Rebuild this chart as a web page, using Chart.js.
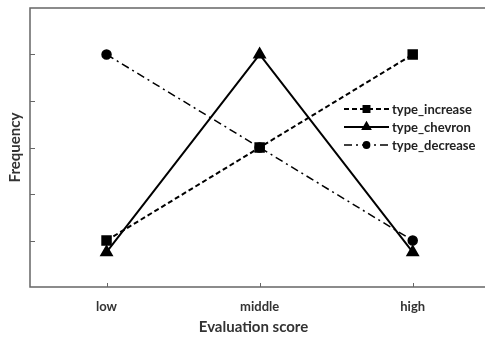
<!DOCTYPE html>
<html>
<head>
<meta charset="utf-8">
<script src="https://cdn.jsdelivr.net/npm/chart.js@4"></script>
<style>
  html, body { margin: 0; padding: 0; background: #fff; overflow: hidden; }
  #wrap { width: 485px; height: 340px; }
</style>
</head>
<body>
<div id="wrap"><canvas id="c"></canvas></div>
<script>
const categories = ['low', 'middle', 'high'];
const typeIncrease = [1, 3, 5];
const typeChevron = [0.75, 5, 0.75];
const typeDecrease = [5, 3, 1];
const yTicks = [1, 2, 3, 4, 5];

const FONT = 'Lato, "Open Sans", sans-serif';
const AXIS = '#666';

const toPoints = arr => arr.map((v, i) => ({ x: i, y: v }));

// inward tick marks, open frame and legend drawn inside the plot
const framePlugin = {
  id: 'frame',
  afterDraw(chart) {
    const { ctx, chartArea: a, scales } = chart;
    ctx.save();
    ctx.strokeStyle = AXIS;
    ctx.lineWidth = 1.5;
    ctx.beginPath();
    ctx.moveTo(chart.width, a.top);
    ctx.lineTo(a.left, a.top);
    ctx.lineTo(a.left, a.bottom);
    ctx.lineTo(chart.width, a.bottom);
    ctx.stroke();
    ctx.lineWidth = 1;
    yTicks.forEach(v => {
      const y = Math.round(scales.y.getPixelForValue(v)) + 0.5;
      ctx.beginPath(); ctx.moveTo(a.left, y); ctx.lineTo(a.left + 5, y); ctx.stroke();
    });
    categories.forEach((c, i) => {
      const x = Math.round(scales.x.getPixelForValue(i)) + 0.5;
      ctx.beginPath(); ctx.moveTo(x, a.bottom); ctx.lineTo(x, a.bottom - 4); ctx.stroke();
    });

    // legend
    const x0 = 344, x1 = 389, rowH = 18;
    let y = 109;
    chart.data.datasets.forEach(ds => {
      ctx.strokeStyle = '#000';
      ctx.lineWidth = ds.borderWidth;
      ctx.setLineDash(ds.borderDash || []);
      ctx.beginPath(); ctx.moveTo(x0, y); ctx.lineTo(x1, y); ctx.stroke();
      ctx.setLineDash([]);
      ctx.fillStyle = '#000';
      Chart.helpers.drawPoint(ctx, { pointStyle: ds.pointStyle, radius: ds.pointRadius * 0.7, borderWidth: 1 }, (x0 + x1) / 2, y);
      ctx.fillStyle = '#222';
      ctx.font = 'bold 13px ' + FONT;
      ctx.textBaseline = 'middle';
      ctx.fillText(ds.label, x1 + 3, y + 1);
      y += rowH;
    });
    ctx.restore();
  }
};

new Chart(document.getElementById('c'), {
  type: 'line',
  data: {
    datasets: [
      {
        label: 'type_increase',
        data: toPoints(typeIncrease),
        borderColor: '#000',
        backgroundColor: '#000',
        borderWidth: 2,
        borderDash: [5, 3],
        pointStyle: 'rect',
        pointRadius: 6,
      },
      {
        label: 'type_chevron',
        data: toPoints(typeChevron),
        borderColor: '#000',
        backgroundColor: '#000',
        borderWidth: 2,
        pointStyle: 'triangle',
        pointRadius: 6,
      },
      {
        label: 'type_decrease',
        data: toPoints(typeDecrease),
        borderColor: '#000',
        backgroundColor: '#000',
        borderWidth: 1.5,
        borderDash: [8, 4, 2, 4],
        pointStyle: 'circle',
        pointRadius: 4.5,
      }
    ]
  },
  options: {
    responsive: true,
    maintainAspectRatio: false,
    animation: false,
    layout: { padding: { top: 6, right: 0, left: 0, bottom: 0 } },
    plugins: {
      legend: { display: false },
      tooltip: { enabled: false }
    },
    elements: { line: { tension: 0 } },
    scales: {
      x: {
        type: 'linear',
        min: -0.5,
        max: 2.42,
        afterBuildTicks: s => { s.ticks = categories.map((c, i) => ({ value: i })); },
        grid: { display: false, drawTicks: false },
        border: { display: false },
        ticks: {
          color: '#333', font: { family: FONT, size: 13, weight: 'bold' }, padding: 12,
          callback: v => categories[v]
        },
        title: { display: true, text: 'Evaluation score', color: '#333', font: { family: FONT, size: 15, weight: 'bold' }, padding: { top: 1 } },
        afterFit: s => { s.height = 53; s.paddingLeft = 0; s.paddingRight = 0; }
      },
      y: {
        min: 0,
        max: 6,
        grid: { display: false, drawTicks: false },
        border: { display: false },
        ticks: { display: false, stepSize: 1 },
        title: { display: true, text: 'Frequency', color: '#333', font: { family: FONT, size: 15, weight: 'bold' }, padding: { top: 6, bottom: 0 } },
        afterFit: s => { s.width = 30; s.paddingTop = 0; s.paddingBottom = 0; }
      }
    }
  },
  plugins: [framePlugin]
});
</script>
</body>
</html>
